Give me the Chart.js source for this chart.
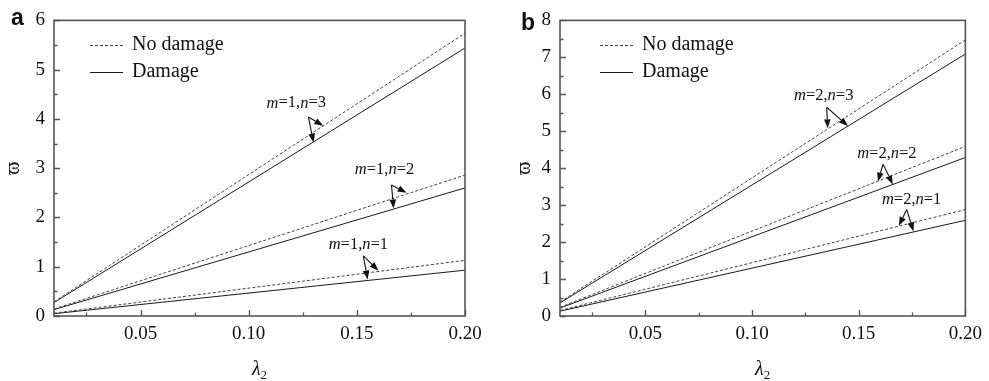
<!DOCTYPE html>
<html><head><meta charset="utf-8">
<script src="https://cdn.jsdelivr.net/npm/chart.js@4.4.1/dist/chart.umd.min.js"></script>
<style>
html,body{margin:0;padding:0;background:#fff;}
#wrap{position:relative;width:989px;height:381px;background:#fff;}
#ca{position:absolute;left:0;top:0;}
#cb{position:absolute;left:494px;top:0;}
</style></head><body>
<div id="wrap"><canvas id="ca" width="494" height="381"></canvas><canvas id="cb" width="495" height="381"></canvas></div>
<script>
// ---- data ----
const lambda2 = [0.01, 0.20];
const xTicks = [0.05, 0.10, 0.15, 0.20];
const xTickLabels = ['0.05', '0.10', '0.15', '0.20'];
const xMinorTicks = [0.025, 0.075, 0.125, 0.175];

const yTicksA = [0, 1, 2, 3, 4, 5, 6];
const yMinorA = [0.5, 1.5, 2.5, 3.5, 4.5, 5.5];
const yTicksB = [0, 1, 2, 3, 4, 5, 6, 7, 8];
const yMinorB = [0.5, 1.5, 2.5, 3.5, 4.5, 5.5, 6.5, 7.5];

// panel a (m = 1)
const noDamageA_n1 = [0.057, 1.13];
const damageA_n1   = [0.047, 0.93];
const noDamageA_n2 = [0.143, 2.86];
const damageA_n2   = [0.130, 2.60];
const noDamageA_n3 = [0.287, 5.74];
const damageA_n3   = [0.272, 5.44];

// panel b (m = 2)
const noDamageB_n1 = [0.150, 2.88];
const damageB_n1   = [0.130, 2.59];
const noDamageB_n2 = [0.235, 4.59];
const damageB_n2   = [0.215, 4.29];
const noDamageB_n3 = [0.378, 7.47];
const damageB_n3   = [0.355, 7.09];

const legendLabels = ['No damage', 'Damage'];

// annotations (data coordinates): [m, n], label centre, arrow origin, arrow tips
const annotA = [
  {mn: [1, 3], label: [0.122, 4.32], from: [0.1276, 4.04], tips: [[0.1345, 3.86], [0.1300, 3.52]]},
  {mn: [1, 2], label: [0.1628, 2.98], from: [0.166, 2.66], tips: [[0.173, 2.50], [0.167, 2.18]]},
  {mn: [1, 1], label: [0.1507, 1.44], from: [0.153, 1.22], tips: [[0.160, 0.92], [0.155, 0.74]]}
];
const annotB = [
  {mn: [2, 3], label: [0.1336, 5.97], from: [0.135, 5.65], tips: [[0.1355, 5.08], [0.145, 5.14]]},
  {mn: [2, 2], label: [0.1632, 4.40], from: [0.1614, 4.11], tips: [[0.159, 3.64], [0.166, 3.56]]},
  {mn: [2, 1], label: [0.1748, 3.15], from: [0.1725, 2.88], tips: [[0.1688, 2.44], [0.1757, 2.29]]}
];

// ---- styles ----
const SERIF = "'Liberation Serif','Times New Roman',serif";
const FRAME = '#555';
const DASH_COLOR = '#444';
const SOLID_COLOR = '#1a1a1a';

function pts(ys) { return lambda2.map((x, i) => ({x: x, y: ys[i]})); }
function ds(label, ys, dashed) {
  return {
    label: label, data: pts(ys), showLine: true, pointRadius: 0,
    borderWidth: 1, borderColor: dashed ? DASH_COLOR : SOLID_COLOR,
    borderDash: dashed ? [3, 2] : [], fill: false, tension: 0
  };
}

function drawRich(ctx, parts, cx, cy, size) {
  let w = 0;
  parts.forEach(p => { ctx.font = (p[1] ? 'italic ' : '') + size + 'px ' + SERIF; w += ctx.measureText(p[0]).width; });
  let x = cx - w / 2;
  ctx.textAlign = 'left'; ctx.textBaseline = 'middle'; ctx.fillStyle = '#111';
  parts.forEach(p => {
    ctx.font = (p[1] ? 'italic ' : '') + size + 'px ' + SERIF;
    ctx.fillText(p[0], x, cy);
    x += ctx.measureText(p[0]).width;
  });
}

function arrow(ctx, x0, y0, x1, y1) {
  const ang = Math.atan2(y1 - y0, x1 - x0), L = 9, W = 3.3;
  const bx = x1 - L * Math.cos(ang), by = y1 - L * Math.sin(ang);
  ctx.beginPath(); ctx.moveTo(x0, y0); ctx.lineTo(bx, by); ctx.stroke();
  ctx.beginPath();
  ctx.moveTo(x1, y1);
  ctx.lineTo(bx + W * Math.sin(ang), by - W * Math.cos(ang));
  ctx.lineTo(bx - W * Math.sin(ang), by + W * Math.cos(ang));
  ctx.closePath(); ctx.fill();
}

const decor = {
  id: 'decor',
  afterDraw(chart, args, o) {
    const ctx = chart.ctx, a = chart.chartArea, xs = chart.scales.x, ys = chart.scales.y;
    ctx.save();
    // frame
    ctx.strokeStyle = FRAME; ctx.lineWidth = 1.6; ctx.setLineDash([]);
    ctx.strokeRect(a.left, a.top, a.right - a.left, a.bottom - a.top);
    // inward ticks
    ctx.lineWidth = 1.3;
    ctx.beginPath();
    xTicks.forEach(v => { const p = Math.round(xs.getPixelForValue(v)) + 0.5; ctx.moveTo(p, a.bottom); ctx.lineTo(p, a.bottom - 6); });
    xMinorTicks.forEach(v => { const p = Math.round(xs.getPixelForValue(v)) + 0.5; ctx.moveTo(p, a.bottom); ctx.lineTo(p, a.bottom - 3.5); });
    o.yMajor.forEach(v => { const p = Math.round(ys.getPixelForValue(v)) + 0.5; ctx.moveTo(a.left, p); ctx.lineTo(a.left + 6, p); });
    o.yMinor.forEach(v => { const p = Math.round(ys.getPixelForValue(v)) + 0.5; ctx.moveTo(a.left, p); ctx.lineTo(a.left + 3.5, p); });
    ctx.stroke();
    // legend
    const lx = o.legendX;
    ctx.lineWidth = 1;
    ctx.strokeStyle = DASH_COLOR; ctx.setLineDash([3, 2]);
    ctx.beginPath(); ctx.moveTo(lx, 45.5); ctx.lineTo(lx + 33, 45.5); ctx.stroke();
    ctx.strokeStyle = SOLID_COLOR; ctx.setLineDash([]);
    ctx.beginPath(); ctx.moveTo(lx, 72.5); ctx.lineTo(lx + 33, 72.5); ctx.stroke();
    ctx.fillStyle = '#111'; ctx.font = '20px ' + SERIF; ctx.textAlign = 'left'; ctx.textBaseline = 'middle';
    ctx.fillText(legendLabels[0], lx + 42, 45);
    ctx.fillText(legendLabels[1], lx + 42, 72);
    // annotations
    ctx.strokeStyle = '#111'; ctx.fillStyle = '#111'; ctx.lineWidth = 1.1;
    o.annot.forEach(an => {
      const cx = xs.getPixelForValue(an.label[0]), cy = ys.getPixelForValue(an.label[1]);
      drawRich(ctx, [['m', true], ['=' + an.mn[0] + ',', false], ['n', true], ['=' + an.mn[1], false]], cx, cy, 16.5);
      const fx = xs.getPixelForValue(an.from[0]), fy = ys.getPixelForValue(an.from[1]);
      ctx.fillStyle = '#111';
      an.tips.forEach(t => arrow(ctx, fx, fy, xs.getPixelForValue(t[0]), ys.getPixelForValue(t[1])));
    });
    // x axis title  λ2
    const mid = (a.left + a.right) / 2;
    ctx.fillStyle = '#111'; ctx.textBaseline = 'alphabetic'; ctx.textAlign = 'left';
    ctx.font = 'italic 20px ' + SERIF;
    const wl = ctx.measureText('λ').width;
    ctx.font = '13px ' + SERIF;
    const w2 = ctx.measureText('2').width;
    const sx = mid - (wl + w2) / 2;
    ctx.font = 'italic 20px ' + SERIF; ctx.fillText('λ', sx, 375);
    ctx.font = '13px ' + SERIF; ctx.fillText('2', sx + wl, 379);
    // panel letter
    ctx.font = 'bold 23px "Liberation Sans", Arial, sans-serif';
    ctx.fillText(o.letter, o.letterX, o.letterY);
    ctx.restore();
  }
};

function makeChart(id, datasets, yMax, yTicks, yMinor, yWidth, padRight, titlePad, plug) {
  return new Chart(document.getElementById(id), {
    type: 'scatter',
    data: {datasets: datasets},
    options: {
      responsive: false, animation: false, devicePixelRatio: 1,
      layout: {padding: {left: 0, right: padRight, top: 16, bottom: 0}},
      plugins: {legend: {display: false}, tooltip: {enabled: false}, decor: plug},
      scales: {
        x: {
          type: 'linear', min: 0.01, max: 0.20,
          grid: {display: false, drawTicks: false}, border: {display: false},
          afterBuildTicks: s => { s.ticks = xTicks.map(v => ({value: v})); },
          afterFit: s => { s.height = 65; },
          ticks: {padding: 7, color: '#111', font: {family: SERIF, size: 19},
            callback: (v, i) => xTickLabels[i]}
        },
        y: {
          type: 'linear', min: 0, max: yMax,
          grid: {display: false, drawTicks: false}, border: {display: false},
          afterBuildTicks: s => { s.ticks = yTicks.map(v => ({value: v})); },
          afterFit: s => { s.width = yWidth; },
          ticks: {padding: 9, color: '#111', font: {family: SERIF, size: 19}, callback: v => String(v)},
          title: {display: true, text: 'ϖ', color: '#111', font: {family: SERIF, size: 20},
            padding: {top: titlePad, bottom: 0}}
        }
      }
    },
    plugins: [decor]
  });
}

makeChart('ca', [
  ds(legendLabels[0] + ' m=1,n=3', noDamageA_n3, true),
  ds(legendLabels[1] + ' m=1,n=3', damageA_n3, false),
  ds(legendLabels[0] + ' m=1,n=2', noDamageA_n2, true),
  ds(legendLabels[1] + ' m=1,n=2', damageA_n2, false),
  ds(legendLabels[0] + ' m=1,n=1', noDamageA_n1, true),
  ds(legendLabels[1] + ' m=1,n=1', damageA_n1, false)
], 6, yTicksA, yMinorA, 54, 29, 2,
  {yMajor: yTicksA, yMinor: yMinorA, legendX: 90, annot: annotA, letter: 'a', letterX: 11, letterY: 25});

makeChart('cb', [
  ds(legendLabels[0] + ' m=2,n=3', noDamageB_n3, true),
  ds(legendLabels[1] + ' m=2,n=3', damageB_n3, false),
  ds(legendLabels[0] + ' m=2,n=2', noDamageB_n2, true),
  ds(legendLabels[1] + ' m=2,n=2', damageB_n2, false),
  ds(legendLabels[0] + ' m=2,n=1', noDamageB_n1, true),
  ds(legendLabels[1] + ' m=2,n=1', damageB_n1, false)
], 8, yTicksB, yMinorB, 66, 19, 19,
  {yMajor: yTicksB, yMinor: yMinorB, legendX: 106, annot: annotB, letter: 'b', letterX: 27, letterY: 30});
</script>
</body></html>
